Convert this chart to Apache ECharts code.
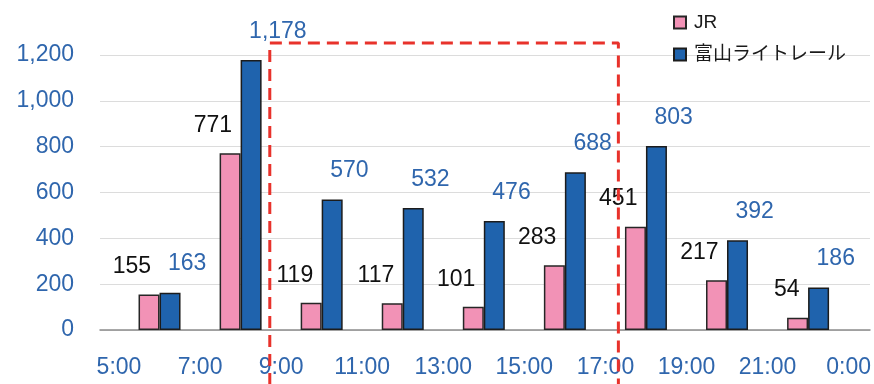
<!DOCTYPE html>
<html>
<head>
<meta charset="utf-8">
<script src="https://cdn.jsdelivr.net/npm/echarts@6/dist/echarts.min.js"></script>
<style>
  html, body { margin: 0; padding: 0; background: #fff; }
  #chart { width: 874px; height: 384px; }
</style>
</head>
<body>
<div id="chart"></div>
<script>
// Hourly passenger counts: JR vs. Toyama Light Rail
const groups = ['5-7', '7-9', '9-11', '11-13', '13-15', '15-17', '17-19', '19-21', '21-0'];
const timeLabels = ['5:00', '7:00', '9:00', '11:00', '13:00', '15:00', '17:00', '19:00', '21:00', '0:00'];
const jrValues = [155, 771, 119, 117, 101, 283, 451, 217, 54];
const lrtValues = [163, 1178, 570, 532, 476, 688, 803, 392, 186];
const yTicks = [0, 200, 400, 600, 800, 1000, 1200];

// Dashed frame around the daytime hours (x in hour-slot units, y in passengers)
const frameX = [1.86, 6.16];
const frameY = [-240, 1252];

const FONT = '"Liberation Sans", Arial, "Noto Sans CJK JP", sans-serif';
const BLUE_TEXT = '#2f66ad';
const fmt = v => Number(v).toLocaleString('en-US');

const chart = echarts.init(document.getElementById('chart'));

chart.setOption({
  animation: false,
  backgroundColor: '#ffffff',
  textStyle: { fontFamily: FONT },
  legend: {
    data: ['JR', '富山ライトレール'],
    orient: 'vertical',
    left: 668,
    top: 8,
    itemWidth: 12,
    itemHeight: 12,
    itemGap: 13,
    icon: 'rect',
    textStyle: { fontSize: 19, color: '#1a1a1a', fontFamily: FONT, padding: [0, 0, 0, 3] }
  },
  grid: [
    { left: 119, right: 24, top: 55, bottom: 54 },
    { left: 100, right: 4, top: 55, bottom: 54 }
  ],
  xAxis: [
    {
      type: 'category', gridIndex: 0, data: groups,
      axisLine: { show: false }, axisTick: { show: false }, axisLabel: { show: false }
    },
    {
      type: 'category', gridIndex: 0, data: timeLabels, boundaryGap: false,
      position: 'bottom',
      axisLine: { show: false }, axisTick: { show: false },
      axisLabel: { color: BLUE_TEXT, fontSize: 23, margin: 26, fontFamily: FONT, interval: 0 }
    },
    {
      type: 'value', gridIndex: 1, min: 0, max: 1,
      axisLine: { show: true, lineStyle: { color: '#8c8c8c', width: 1.5 } },
      axisTick: { show: false }, axisLabel: { show: false }, splitLine: { show: false }
    },
    {
      type: 'value', gridIndex: 0, min: 0, max: groups.length, show: false
    }
  ],
  yAxis: [
    {
      type: 'value', gridIndex: 0, min: 0, max: 1200, interval: 200, show: false
    },
    {
      type: 'value', gridIndex: 1, min: yTicks[0], max: yTicks[yTicks.length - 1], interval: 200,
      axisLine: { show: false }, axisTick: { show: false },
      splitLine: { lineStyle: { color: '#dcdcdc', width: 1 } },
      axisLabel: { color: BLUE_TEXT, fontSize: 23, margin: 26, fontFamily: FONT, formatter: fmt }
    }
  ],
  series: [
    {
      name: 'JR', type: 'bar', xAxisIndex: 0, yAxisIndex: 0,
      data: jrValues, barWidth: 21, barGap: '0%',
      itemStyle: { color: '#f292b6', borderColor: '#262626', borderWidth: 1.5 },
      label: {
        show: true, position: 'top', align: 'right', offset: [2, -11],
        color: '#111', fontSize: 23, fontFamily: FONT, formatter: p => fmt(p.value)
      },
      z: 3
    },
    {
      name: '富山ライトレール', type: 'bar', xAxisIndex: 0, yAxisIndex: 0,
      data: lrtValues, barWidth: 21, barGap: '0%',
      itemStyle: { color: '#1f63ad', borderColor: '#1c1c1c', borderWidth: 1.5 },
      label: {
        show: true, position: 'top', align: 'left', offset: [-2, -12],
        color: BLUE_TEXT, fontSize: 23, fontFamily: FONT, formatter: p => fmt(p.value)
      },
      z: 3
    },
    {
      name: 'frame', type: 'line', xAxisIndex: 3, yAxisIndex: 0,
      data: [
        [frameX[0], frameY[0]], [frameX[0], frameY[1]],
        [frameX[1], frameY[1]], [frameX[1], frameY[0]]
      ],
      symbol: 'none', clip: false, silent: true, z: 10,
      lineStyle: { color: '#e8322b', width: 3, type: [12, 7] }
    }
  ]
});
</script>
</body>
</html>
